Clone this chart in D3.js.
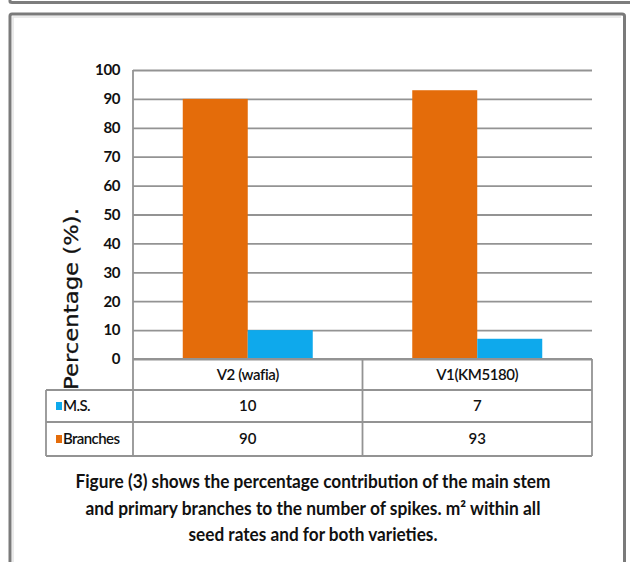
<!DOCTYPE html>
<html>
<head>
<meta charset="utf-8">
<script src="https://cdn.jsdelivr.net/npm/d3@7/dist/d3.min.js"></script>
<style>
  html, body { margin: 0; padding: 0; background: #fff; }
  svg { display: block; }
</style>
</head>
<body>
<svg id="chart" width="630" height="562"></svg>
<script>
// Varieties shown on the category axis / data table
const categories = ["V2 (wafia)", "V1(KM5180)"];
// Series: main stem and primary branches (% contribution)
const seriesNames = ["Branches", "M.S."];
const branchesValues = [90, 93];
const msValues = [10, 7];
// Value axis ticks
const yTicks = [0, 10, 20, 30, 40, 50, 60, 70, 80, 90, 100];
const yTitle = "Percentage (%).";
const captionLines = [
  "Figure (3) shows the percentage contribution of the main stem",
  "and primary branches to the number of spikes. m\u00B2 within all",
  "seed rates and for both varieties."
];

const colors = { "Branches": "#E46C0A", "M.S.": "#0EA9EC" };
const valuesBySeries = { "Branches": branchesValues, "M.S.": msValues };

const svg = d3.select("#chart");
const gridColor = "#939393";

// Outer frames
svg.append("path")
  .attr("d", "M10,-4 L10,1.5 Q10,2.5 12,2.5 L632,2.5")
  .attr("fill", "none").attr("stroke", "#7d7d7d").attr("stroke-width", 3);
svg.append("path")
  .attr("d", "M10,570 L10,16 Q10,14 12,14 L622,14 Q624.5,14 624.5,16 L624.5,570")
  .attr("fill", "none").attr("stroke", "#7a7a7a").attr("stroke-width", 3);
svg.append("path")
  .attr("d", "M13,570 L13,17 L621,17")
  .attr("fill", "none").attr("stroke", "#e4e4e4").attr("stroke-width", 1.5);

// Plot area
const plotL = 133, plotR = 592, plotT = 70, plotB = 359;
const y = d3.scaleLinear().domain([0, 100]).range([plotB, plotT]);
const x0 = d3.scaleBand().domain(categories).range([plotL, plotR])
  .paddingInner(0.4336).paddingOuter(0.2168);
const x1 = d3.scaleBand().domain(seriesNames).range([0, x0.bandwidth()]);

// Gridlines + tick labels
const yAxis = d3.axisLeft(y).tickValues(yTicks).tickSize(-(plotR - plotL)).tickPadding(13);
const gy = svg.append("g").attr("transform", `translate(${plotL},0)`).call(yAxis);
gy.select(".domain").remove();
gy.selectAll(".tick line").attr("stroke", gridColor).attr("stroke-width", 1.8);
gy.selectAll(".tick text")
  .attr("fill", "#111").attr("font-family", "Lato, 'Open Sans', sans-serif")
  .attr("font-weight", "bold").attr("font-size", 15).attr("letter-spacing", -0.4);

// Vertical value-axis line
svg.append("line").attr("x1", plotL).attr("x2", plotL).attr("y1", plotT).attr("y2", plotB)
  .attr("stroke", gridColor).attr("stroke-width", 1.8);

// Bars
const groups = svg.append("g").selectAll("g").data(categories).join("g")
  .attr("transform", d => `translate(${x0(d)},0)`);
groups.selectAll("rect")
  .data((c, i) => seriesNames.map(s => ({ s, v: valuesBySeries[s][i] })))
  .join("rect")
  .attr("x", d => x1(d.s))
  .attr("width", x1.bandwidth())
  .attr("y", d => y(d.v))
  .attr("height", d => y(0) - y(d.v))
  .attr("fill", d => colors[d.s]);

// Data table
const tableL = 46;
const rowLines = [plotB, 390, 422, 456];
const tbl = svg.append("g").attr("stroke", gridColor).attr("stroke-width", 1.8);
tbl.append("line").attr("x1", plotL).attr("x2", plotR).attr("y1", rowLines[0]).attr("y2", rowLines[0]);
rowLines.slice(1).forEach(ry => {
  tbl.append("line").attr("x1", tableL).attr("x2", plotR).attr("y1", ry).attr("y2", ry);
});
tbl.append("line").attr("x1", tableL).attr("x2", tableL).attr("y1", rowLines[1]).attr("y2", rowLines[3]);
tbl.append("line").attr("x1", plotL).attr("x2", plotL).attr("y1", rowLines[0]).attr("y2", rowLines[3]);
const midX = (x0(categories[0]) + x0.bandwidth() + x0(categories[1])) / 2;
tbl.append("line").attr("x1", midX).attr("x2", midX).attr("y1", rowLines[0]).attr("y2", rowLines[3]);
tbl.append("line").attr("x1", plotR).attr("x2", plotR).attr("y1", rowLines[0]).attr("y2", rowLines[3]);

const txtFont = "Lato, 'Open Sans', sans-serif";
const centerOf = c => x0(c) + x0.bandwidth() / 2;
svg.append("g").selectAll("text").data(categories).join("text")
  .attr("x", d => centerOf(d)).attr("y", (rowLines[0] + rowLines[1]) / 2 + 5)
  .attr("text-anchor", "middle").attr("font-family", txtFont).attr("font-size", 15)
  .attr("font-weight", 600).attr("fill", "#111").attr("letter-spacing", -0.4).text(d => d);

// Table rows: M.S. first, then Branches
const tableSeries = ["M.S.", "Branches"];
tableSeries.forEach((s, r) => {
  const cy = (rowLines[r + 1] + rowLines[r + 2]) / 2;
  svg.append("rect").attr("x", 56).attr("y", cy - 4).attr("width", 6).attr("height", 8)
    .attr("fill", colors[s]);
  svg.append("text").attr("x", 63).attr("y", cy + 5)
    .attr("font-family", txtFont).attr("font-size", 15).attr("font-weight", 600)
    .attr("fill", "#111").attr("letter-spacing", -0.6).text(s);
  svg.append("g").selectAll("text").data(categories).join("text")
    .attr("x", d => centerOf(d)).attr("y", cy + 5)
    .attr("text-anchor", "middle").attr("font-family", txtFont).attr("font-size", 15)
    .attr("font-weight", 600).attr("fill", "#111")
    .text((d, i) => valuesBySeries[s][i]);
});

// Value-axis title
svg.append("text")
  .attr("transform", "translate(78,390) rotate(-90)")
  .attr("font-family", "'DejaVu Sans', sans-serif").attr("font-size", 19)
  .attr("fill", "#111").attr("stroke", "#111").attr("stroke-width", 0.3)
  .attr("textLength", 182).attr("lengthAdjust", "spacingAndGlyphs")
  .text(yTitle);

// Caption
const capWidths = [475, 455, 249];
const capX = 313;
svg.append("g").selectAll("text").data(captionLines).join("text")
  .attr("x", (d, i) => capX - capWidths[i] / 2)
  .attr("y", (d, i) => 488 + i * 26.5)
  .attr("font-family", "'Liberation Sans Narrow', Lato, sans-serif")
  .attr("font-weight", "bold").attr("font-size", 18).attr("fill", "#111")
  .attr("textLength", (d, i) => capWidths[i]).attr("lengthAdjust", "spacingAndGlyphs")
  .text(d => d);
</script>
</body>
</html>
